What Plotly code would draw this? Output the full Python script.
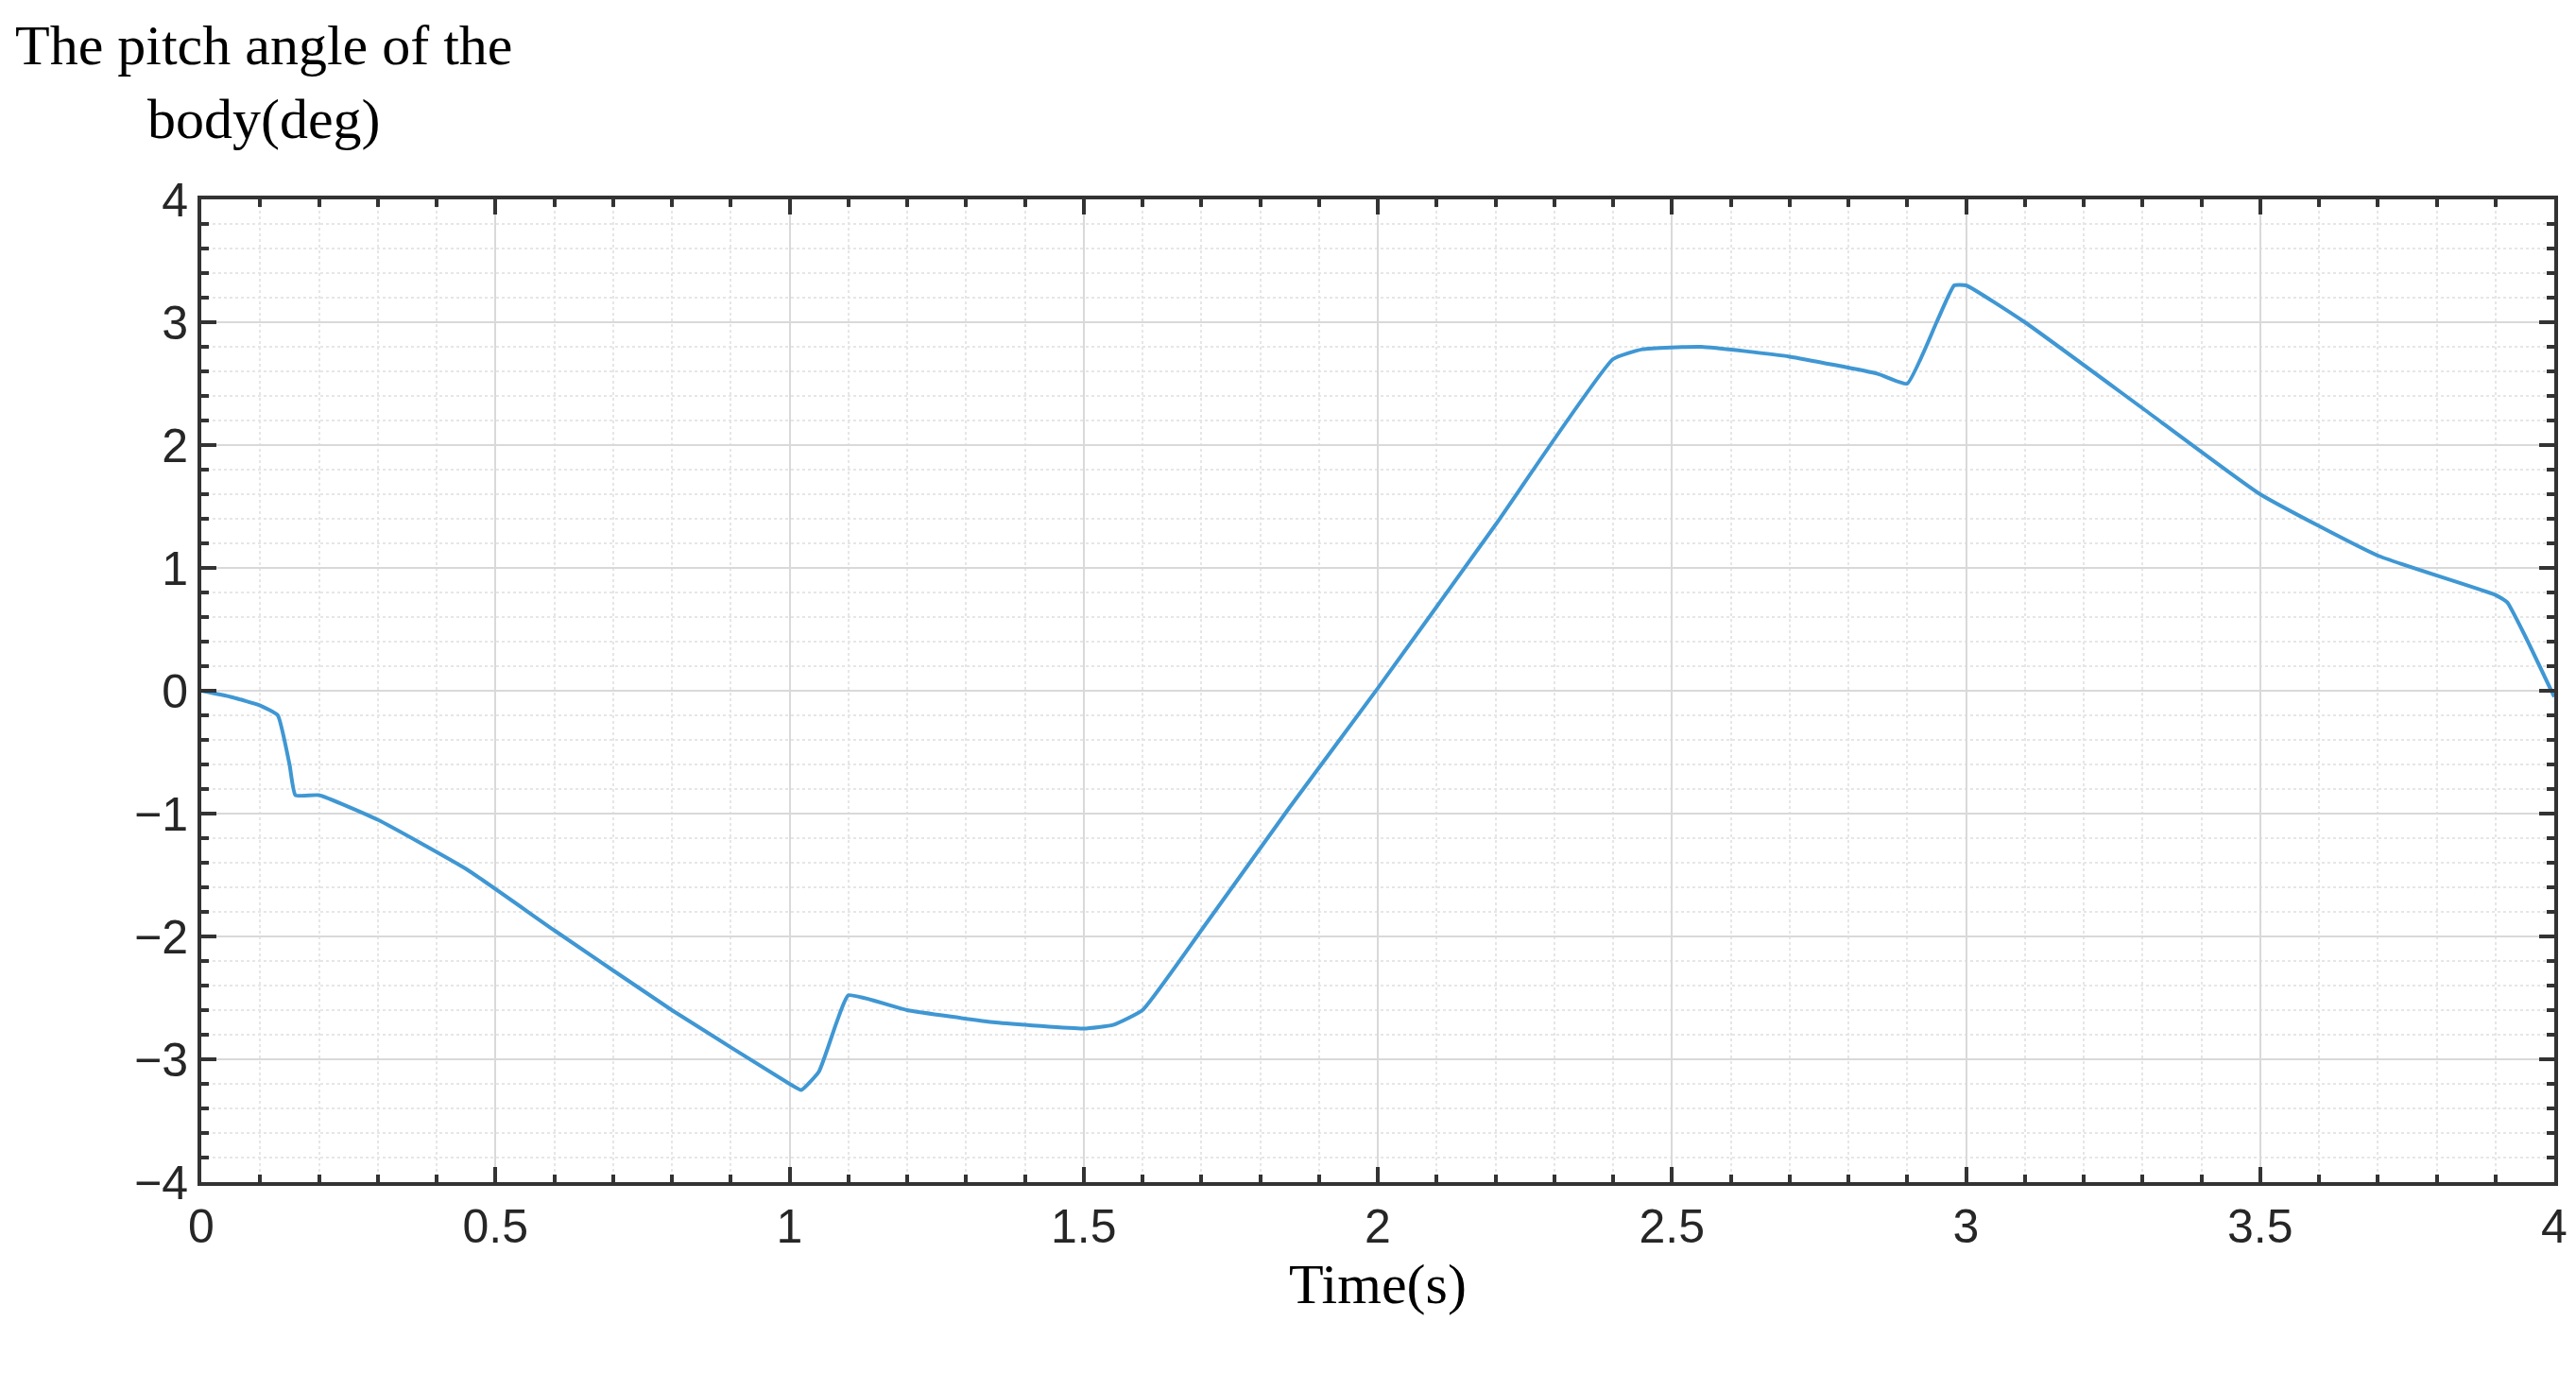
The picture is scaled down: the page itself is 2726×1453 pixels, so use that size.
import plotly.graph_objects as go

# time (s) and body pitch angle (deg)
time_s = [0, 0.05, 0.1, 0.13, 0.15, 0.16, 0.2, 0.3, 0.45, 0.6, 0.8, 1.0, 1.02, 1.05,
          1.08, 1.1, 1.2, 1.35, 1.5, 1.55, 1.6, 1.7, 1.85, 2.0, 2.2, 2.4, 2.45, 2.55,
          2.7, 2.85, 2.9, 2.95, 2.98, 3.0, 3.1, 3.3, 3.5, 3.7, 3.9, 3.92, 3.95, 4.0]
pitch_deg = [0, -0.05, -0.12, -0.2, -0.6, -0.85, -0.85, -1.05, -1.45, -1.95, -2.6,
             -3.2, -3.25, -3.1, -2.7, -2.48, -2.6, -2.7, -2.75, -2.72, -2.6, -1.95,
             -0.95, 0.02, 1.35, 2.7, 2.78, 2.8, 2.72, 2.58, 2.5, 3.0, 3.3, 3.3, 3.0,
             2.3, 1.6, 1.1, 0.78, 0.72, 0.45, -0.05]

x_ticks = [0, 0.5, 1, 1.5, 2, 2.5, 3, 3.5, 4]
x_labels = ["0", "0.5", "1", "1.5", "2", "2.5", "3", "3.5", "4"]
y_ticks = [-4, -3, -2, -1, 0, 1, 2, 3, 4]

fig = go.Figure()
fig.add_trace(go.Scatter(x=time_s, y=pitch_deg, mode="lines",
                         line=dict(color="#3f97d3", width=4, shape="spline", smoothing=0.4)))

axis_common = dict(
    showline=True, linecolor="#333333", linewidth=4, mirror="ticks",
    ticks="inside", ticklen=16, tickwidth=4, tickcolor="#333333",
    showgrid=True, gridcolor="#d9d9d9", gridwidth=2, zeroline=False,
    tickfont=dict(family="Liberation Sans", size=50, color="#262626"),
)

fig.update_xaxes(range=[0, 4], tickvals=x_ticks, ticktext=x_labels,
                 minor=dict(dtick=0.1, showgrid=True, gridcolor="#e6e6e6",
                            griddash="dot", gridwidth=2, ticks="inside",
                            ticklen=8, tickcolor="#333333"),
                 title=dict(text="Time(s)", standoff=10,
                            font=dict(family="Liberation Serif", size=60, color="black")),
                 **axis_common)
fig.update_yaxes(range=[-4, 4], tickvals=y_ticks,
                 minor=dict(dtick=0.2, showgrid=True, gridcolor="#e6e6e6",
                            griddash="dot", gridwidth=2, ticks="inside",
                            ticklen=8, tickcolor="#333333"),
                 **axis_common)

fig.add_annotation(text="The pitch angle of the<br>body(deg)", xref="paper", yref="paper",
                   x=-0.08, y=1.19, xanchor="left", yanchor="top", showarrow=False,
                   align="center",
                   font=dict(family="Liberation Serif", size=60, color="black"))

fig.update_layout(width=2726, height=1453, showlegend=False,
                  paper_bgcolor="white", plot_bgcolor="white",
                  margin=dict(l=205, r=31, t=203, b=210))

fig.write_html("out.html")
